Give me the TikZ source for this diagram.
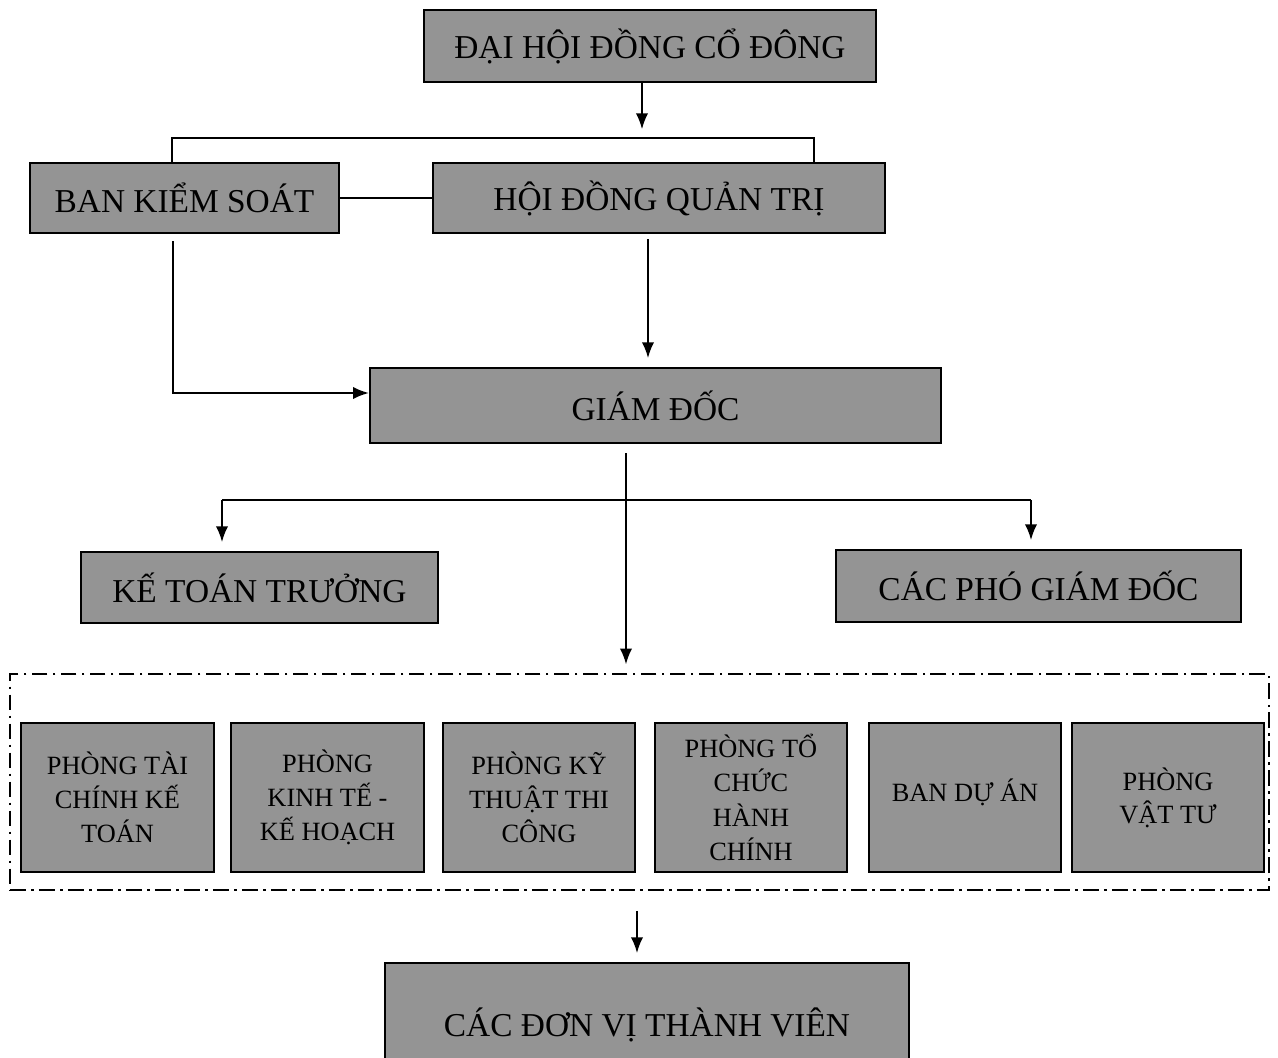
\documentclass[tikz,border=0pt]{standalone}
\usepackage{xcolor}
\usepackage{fontspec}
\setmainfont{Liberation Serif}
\usepackage{tikz}
\usetikzlibrary{arrows.meta,shapes}

\tikzset{
    hop/.style={draw, line width=1.3pt, fill=black!42, inner sep=0pt, align=center,
        font=\fontsize{19}{22}\selectfont},
    phong/.style={hop, minimum width=3.85cm, minimum height=2.98cm,
        font=\fontsize{15}{19.5}\selectfont},
    noi/.style={line width=1pt},
    mui/.style={noi, ->, >={Latex[length=9pt,width=7pt]}, shorten >=5pt}
}

\begin{document}
\begin{tikzpicture}
        \useasboundingbox (0,0) rectangle (25.56,-21.16);

        \node[hop, minimum width=9.04cm, minimum height=1.44cm] (dhdcd) at (13.0,-0.92) {ĐẠI HỘI ĐỒNG CỔ ĐÔNG};
        \node[hop, minimum width=6.18cm, minimum height=1.4cm] (bks) at (3.69,-3.96) {BAN KIỂM SOÁT};
        \node[hop, minimum width=9.04cm, minimum height=1.4cm] (hdqt) at (13.18,-3.96) {HỘI ĐỒNG QUẢN TRỊ};
        \node[hop, minimum width=11.42cm, minimum height=1.5cm] (gd) at (13.11,-8.11) {GIÁM ĐỐC};
        \node[hop, minimum width=7.14cm, minimum height=1.42cm] (ktt) at (5.19,-11.75) {KẾ TOÁN TRƯỞNG};
        \node[hop, minimum width=8.1cm, minimum height=1.44cm] (cpgd) at (20.77,-11.72) {CÁC PHÓ GIÁM ĐỐC};

        % khoi phong ban
        \node[draw, noi, dash pattern=on 9pt off 3pt on 1.5pt off 3pt,
              minimum width=25.18cm, minimum height=4.32cm] (khoi) at (12.79,-15.64) {};
        \node[phong] (tckt) at (2.35,-15.95) {PHÒNG TÀI\\CHÍNH KẾ\\TOÁN};
        \node[phong] (ktkh) at (6.55,-15.95) {PHÒNG\\KINH TẾ -\\KẾ HOẠCH};
        \node[phong] (kttc) at (10.78,-15.95) {PHÒNG KỸ\\THUẬT THI\\CÔNG};
        \node[phong] (tchc) at (15.02,-15.95) {PHÒNG TỔ\\CHỨC\\HÀNH\\CHÍNH};
        \node[phong] (bda) at (19.3,-15.95) {\raisebox{0.3cm}{BAN DỰ ÁN}};
        \node[phong] (vt) at (23.36,-15.95) {\raisebox{-0.12cm}{\shortstack{PHÒNG\\[0.1cm]VẬT TƯ}}};

        \node[hop, minimum width=10.48cm, minimum height=2.48cm] (dvtv) at (12.94,-20.5) {CÁC ĐƠN VỊ THÀNH VIÊN};

        \coordinate (bar) at (12.84,-2.76);
        \coordinate (barL) at (3.44,-2.76);
        \coordinate (barR) at (16.28,-2.76);
        \coordinate (ksgd) at (3.46,-7.86);
        \coordinate (gdx) at (12.52,-10.0);
        \coordinate (nhanL) at (4.44,-10.0);
        \coordinate (nhanR) at (20.62,-10.0);

        \draw[mui] (dhdcd.south -| bar) -- (bar);
        \draw[noi] (barL |- bks.north) -- (barL) -- (barR) -- (barR |- hdqt.north);
        \draw[noi] (bks) -- (hdqt);
        \draw[mui, shorten >=0pt] ([yshift=-0.14cm]bks.south -| ksgd) -- (ksgd) -- (ksgd -| gd.west);
        \draw[mui] ([yshift=-0.1cm]hdqt.south -| 12.96,0) -- (gd.north -| 12.96,0);
        \draw[mui] ([yshift=-0.18cm]gd.south -| gdx) -- (khoi.north -| gdx);
        \draw[noi] (nhanL) -- (nhanR);
        \draw[mui] (nhanL) -- (ktt.north -| nhanL);
        \draw[mui] (nhanR) -- (cpgd.north -| nhanR);
        \draw[mui] ([yshift=-0.4cm]khoi.south -| 12.74,0) -- (dvtv.north -| 12.74,0);

    \end{tikzpicture}
\end{document}
